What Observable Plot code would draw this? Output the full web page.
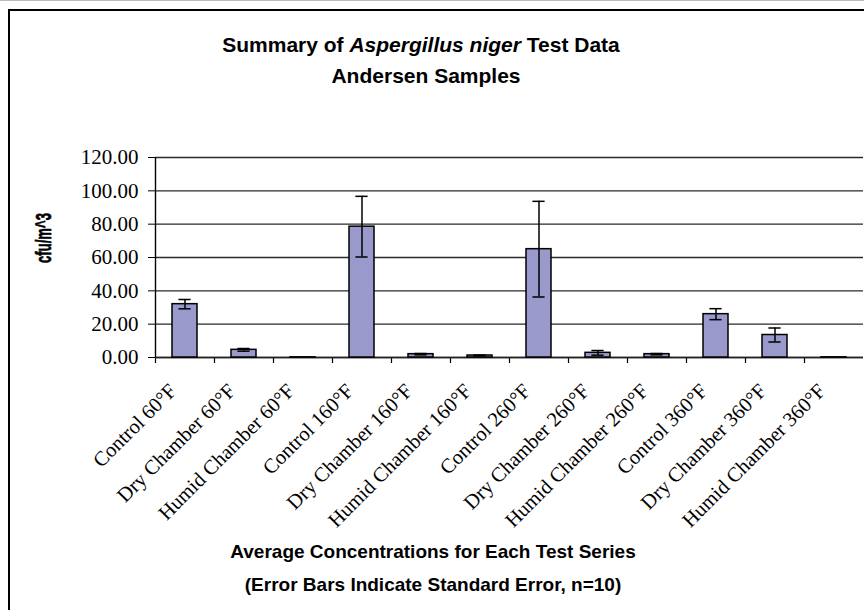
<!DOCTYPE html>
<html>
<head>
<meta charset="utf-8">
<script src="https://cdn.jsdelivr.net/npm/d3@7"></script>
<script src="https://cdn.jsdelivr.net/npm/@observablehq/plot@0.6"></script>
<style>
  html, body { margin: 0; padding: 0; background: #fff; overflow: hidden; width: 864px; height: 610px; }
  #frame { position: absolute; left: 8px; top: 9px; width: 900px; height: 700px; border-left: 2px solid #000; border-top: 2px solid #000; }
  #topline { position: absolute; left: 0; top: 0; width: 864px; height: 1px; background: #bbb; }
  .ttl { position: absolute; font-family: "Liberation Sans", Arial, sans-serif; font-weight: bold; color: #000; text-align: center; white-space: nowrap; }
  #chart { position: absolute; left: 0; top: 0; }
</style>
</head>
<body>
<div id="topline"></div>
<div id="frame"></div>
<div id="chart"></div>
<div class="ttl" style="left:121px; width:600px; top:33px; font-size:21px;">Summary of <i>Aspergillus niger</i> Test Data</div>
<div class="ttl" style="left:126px; width:600px; top:64px; font-size:21px;">Andersen Samples</div>
<div class="ttl" style="left:133px; width:600px; top:541px; font-size:19px;">Average Concentrations for Each Test Series</div>
<div class="ttl" style="left:133px; width:600px; top:574px; font-size:19px;">(Error Bars Indicate Standard Error, n=10)</div>
<script>
const categories = [
  "Control 60°F", "Dry Chamber 60°F", "Humid Chamber 60°F",
  "Control 160°F", "Dry Chamber 160°F", "Humid Chamber 160°F",
  "Control 260°F", "Dry Chamber 260°F", "Humid Chamber 260°F",
  "Control 360°F", "Dry Chamber 360°F", "Humid Chamber 360°F"
];
const means  = [32.0, 4.6, 0.1, 78.5, 2.0, 1.2, 65.0, 2.8, 2.0, 26.0, 13.5, 0.1];
const stdErr = [2.8, 0.8, 0.0, 18.2, 0.4, 0.2, 28.7, 1.4, 0.4, 3.3, 4.2, 0.0];
const yTicks = [0, 20, 40, 60, 80, 100, 120];
const yLabel = "cfu/m^3";

const data = categories.map((c, i) => ({cat: c, mean: means[i], lo: means[i] - stdErr[i], hi: means[i] + stdErr[i], se: stdErr[i]}));
const withErr = data.filter(d => d.se > 0);

const W = 864, H = 530;
const step = (W - 155 - 1) / categories.length;

const chart = Plot.plot({
  width: W,
  height: H,
  marginTop: 157,
  marginBottom: 173,
  marginLeft: 155,
  marginRight: 1,
  style: {background: "transparent", overflow: "visible"},
  x: {domain: categories, paddingInner: 0.58, paddingOuter: 0.29, label: null},
  y: {domain: [0, 120], label: null},
  marks: [
    Plot.gridY(yTicks, {stroke: "#2a2a2a", strokeOpacity: 1, strokeWidth: 1.4}),
    Plot.axisY(yTicks, {
      tickFormat: d => d.toFixed(2),
      tickSize: 7, tickPadding: 10,
      fontSize: 21, fontFamily: "Liberation Serif, Times New Roman, serif",
      stroke: "#000", fill: "#000", label: null
    }),
    Plot.axisX({
      tickSize: 0, tickPadding: 30, tickRotate: -45, dx: -12, dy: 0,
      fontSize: 20.5, fontFamily: "Liberation Serif, Times New Roman, serif",
      fill: "#000", label: null
    }),
    Plot.ruleX(categories, {x: d => d, y1: 0, y2: 0, dx: -step / 2, insetBottom: -6, stroke: "#000", strokeWidth: 1.2}),
    Plot.ruleX(categories.slice(0, 1), {x: d => d, y1: 0, y2: 120, dx: -step / 2, stroke: "#000", strokeWidth: 1.4}),
    Plot.ruleY([0], {stroke: "#222", strokeWidth: 1.6}),
    Plot.barY(data, {x: "cat", y: "mean", fill: "#9999cc", stroke: "#000", strokeWidth: 1.5}),
    Plot.ruleX(withErr, {x: "cat", y1: "lo", y2: "hi", stroke: "#000", strokeWidth: 1.5}),
    Plot.tickY(withErr, {x: "cat", y: "hi", inset: 6.4, stroke: "#000", strokeWidth: 1.5}),
    Plot.tickY(withErr, {x: "cat", y: "lo", inset: 6.4, stroke: "#000", strokeWidth: 1.5}),
    Plot.text([yLabel], {
      frameAnchor: "left", textAnchor: "middle", dx: -112, dy: -19.5, rotate: -90, text: d => d,
      fontSize: 22, fontWeight: "bold", fontFamily: "Liberation Sans, Arial, sans-serif",
      fill: "#000", stroke: "#000", strokeWidth: 0.7,
      className: "ylab"
    })
  ]
});
const yl = chart.querySelector(".ylab text");
if (yl) { yl.setAttribute("textLength", "50"); yl.setAttribute("lengthAdjust", "spacingAndGlyphs"); }
document.getElementById("chart").appendChild(chart);
</script>
</body>
</html>
